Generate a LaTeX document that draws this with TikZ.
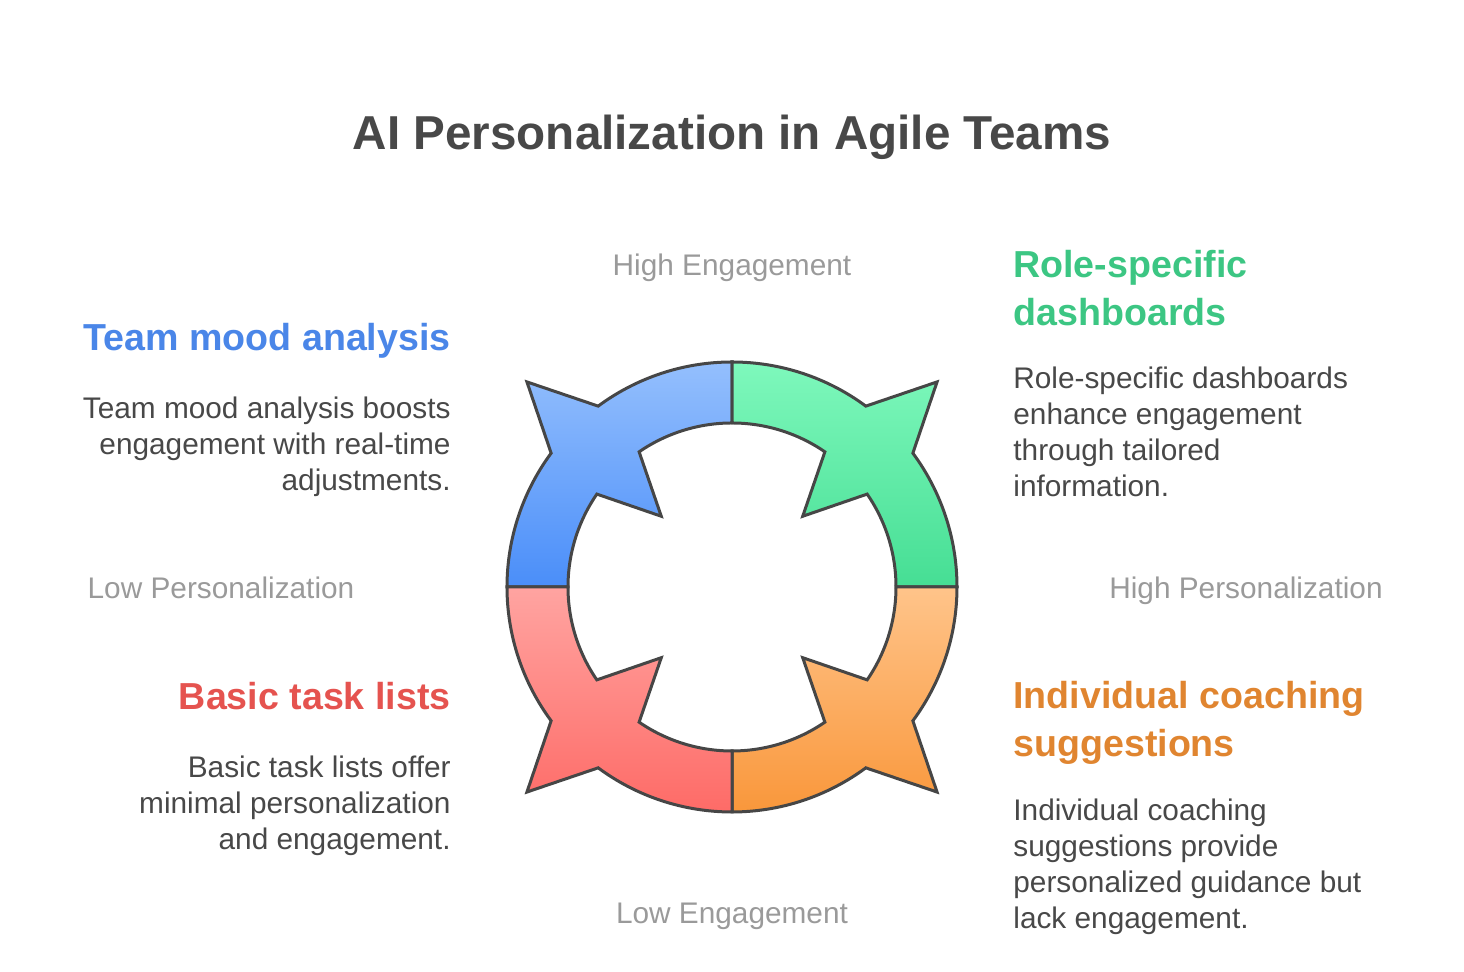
\documentclass[tikz,border=0pt]{standalone}
\usepackage{fontspec}
\setmainfont{Liberation Sans}
\usetikzlibrary{positioning}

\definecolor{inkgray}{HTML}{484848}
\definecolor{axisgray}{HTML}{9A9A9A}
\definecolor{edgegray}{HTML}{464646}
\definecolor{moodblue}{HTML}{4A86E8}
\definecolor{rolegreen}{HTML}{3CC683}
\definecolor{taskred}{HTML}{E5534F}
\definecolor{coachorange}{HTML}{E08530}
\definecolor{bluetop}{HTML}{94BFFD}
\definecolor{bluebot}{HTML}{4A8EF9}
\definecolor{greentop}{HTML}{7EF8BC}
\definecolor{greenbot}{HTML}{46DE94}
\definecolor{orangetop}{HTML}{FFC48A}
\definecolor{orangebot}{HTML}{F9973B}
\definecolor{redtop}{HTML}{FFA4A1}
\definecolor{redbot}{HTML}{FE6B67}

% one quarter of the ring: start angle, top colour, bottom colour
\newcommand\ringquarter[3]{%
  \path[quarter,top color=#2,bottom color=#3]
    (#1:225) arc[start angle=#1,end angle={#1+36.5},radius=225]
    -- ({#1+45}:290) -- ({#1+53.5}:225)
    arc[start angle={#1+53.5},end angle={#1+90},radius=225]
    -- ({#1+90}:164) arc[start angle={#1+90},end angle={#1+55.5},radius=164]
    -- ({#1+45}:100) -- ({#1+34.5}:164)
    arc[start angle={#1+34.5},end angle=#1,radius=164] -- cycle;}

\begin{document}
\begin{tikzpicture}[x=0.5pt,y=0.5pt,
  quarter/.style={draw=edgegray,line width=1.5pt},
  heading/.style={font=\bfseries\fontsize{18.8}{24}\selectfont,inner sep=0pt},
  body/.style={text=inkgray,font=\fontsize{14.9}{18}\selectfont,inner sep=0pt},
  axis/.style={text=axisgray,font=\fontsize{14.9}{18}\selectfont,inner sep=0pt,anchor=base}
]
  \useasboundingbox (0,0) rectangle (1464,972);

  \node[text=inkgray,font=\bfseries\fontsize{23.8}{30}\selectfont,anchor=base] (title) at (732,822)
    {AI Personalization in Agile Teams};

  % the ring
  \begin{scope}[shift={(732,385)}]
    \ringquarter{90}{bluetop}{bluebot}
    \ringquarter{0}{greentop}{greenbot}
    \ringquarter{270}{orangetop}{orangebot}
    \ringquarter{180}{redtop}{redbot}
  \end{scope}

  % axis labels
  \node[axis] (higheng) at (732,696) {High Engagement};
  \node[axis] (loweng) at (732,48) {Low Engagement};
  \node[axis] (lowpers) at (221,373) {Low Personalization};
  \node[axis] (highpers) at (1246,373) {High Personalization};

  % quadrant texts (base = last line)
  \node[heading,text=moodblue,anchor=base east] (moodhead) at (451,621) {Team mood analysis};
  \node[body,align=right,anchor=base east] (moodtext) at (451,481)
    {Team mood analysis boosts\\engagement with real-time\\adjustments.};

  \node[heading,text=rolegreen,align=left,anchor=base west] (rolehead) at (1013,646)
    {Role-specific\\dashboards};
  \node[body,align=left,anchor=base west] (roletext) at (1013,475)
    {Role-specific dashboards\\enhance engagement\\through tailored\\information.};

  \node[heading,text=taskred,anchor=base east] (taskhead) at (451,262) {Basic task lists};
  \node[body,align=right,anchor=base east] (tasktext) at (451,122)
    {Basic task lists offer\\minimal personalization\\and engagement.};

  \node[heading,text=coachorange,align=left,anchor=base west] (coachhead) at (1013,215)
    {Individual coaching\\suggestions};
  \node[body,align=left,anchor=base west] (coachtext) at (1013,43)
    {Individual coaching\\suggestions provide\\personalized guidance but\\lack engagement.};
\end{tikzpicture}
\end{document}
